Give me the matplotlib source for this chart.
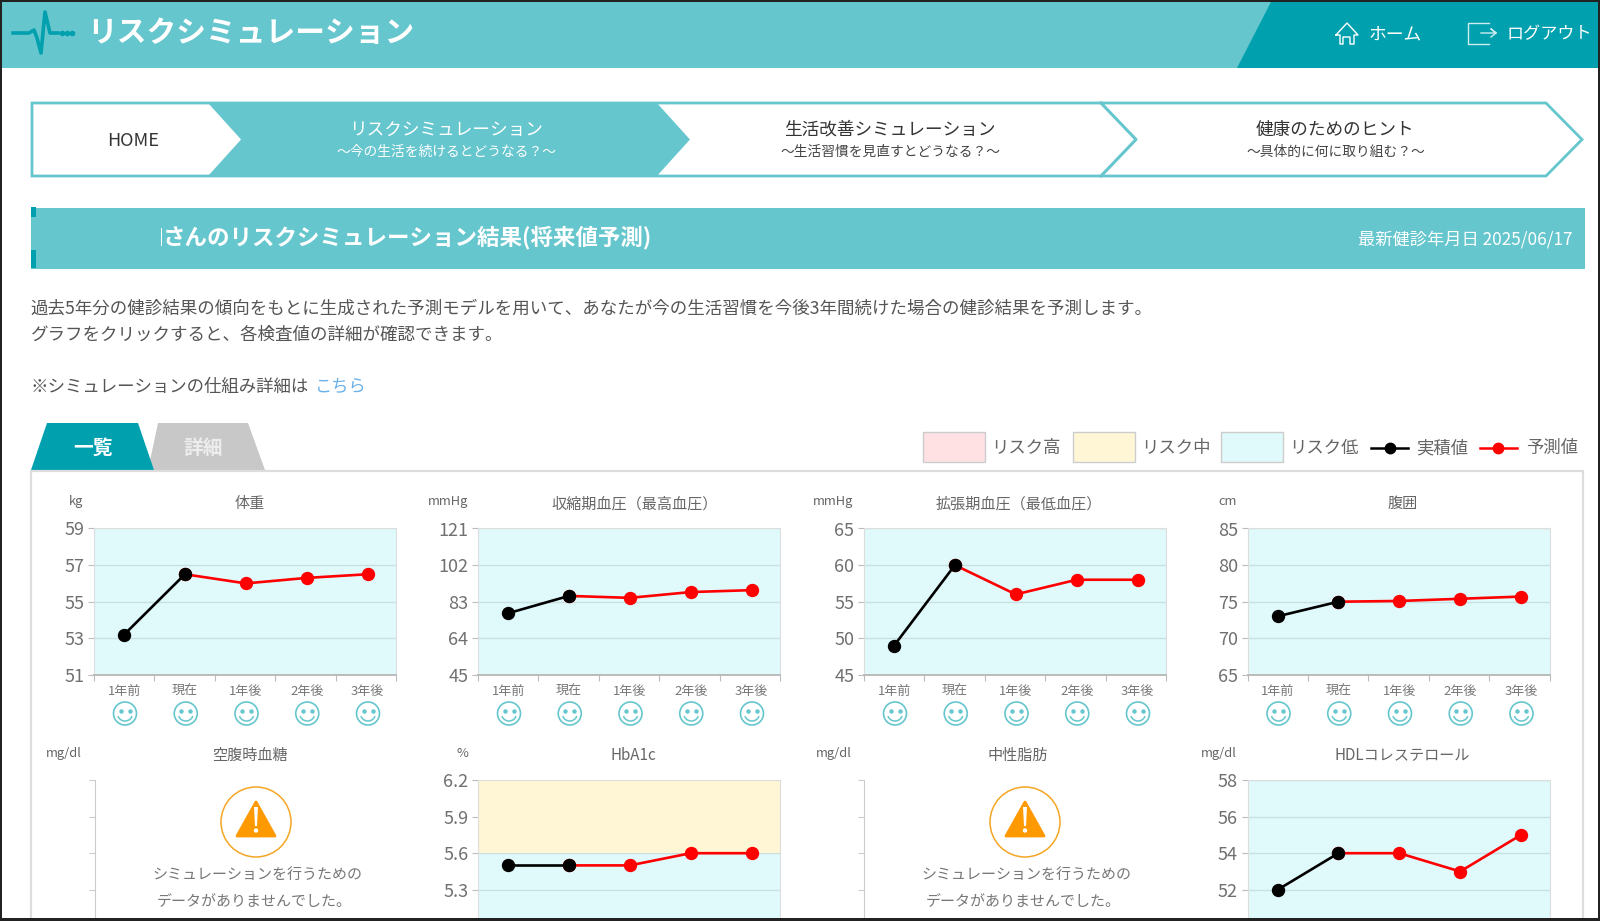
import numpy as np
import matplotlib
matplotlib.use("Agg")
import matplotlib.pyplot as plt
from matplotlib.patches import Polygon, Rectangle, Ellipse, Circle, Arc

plt.rcParams['font.family'] = ['Noto Sans CJK JP', 'DejaVu Sans']

# Chart data
x_labels = ['1年前', '現在', '1年後', '2年後', '3年後']

weight = [53.2, 56.5, 56.0, 56.3, 56.5]
weight_ticks = [51, 53, 55, 57, 59]
systolic = [77, 86, 85, 88, 89]
systolic_ticks = [45, 64, 83, 102, 121]
diastolic = [49, 60, 56, 58, 58]
diastolic_ticks = [45, 50, 55, 60, 65]
waist = [73, 75, 75.1, 75.4, 75.7]
waist_ticks = [65, 70, 75, 80, 85]
hba1c = [5.5, 5.5, 5.5, 5.6, 5.6]
hba1c_ticks = [5.0, 5.3, 5.6, 5.9, 6.2]
hba1c_mid_from = 5.6
hdl = [52, 54, 54, 53, 55]
hdl_ticks = [50, 52, 54, 56, 58]
empty_ticks = [0, 1, 2, 3, 4]

TEAL = '#66C6CE'
DARK = '#00A0AE'
LOW = '#E0FAFC'
MID = '#FFF6D6'
HIGH = '#FFE0E3'
GREY = '#666666'

W, H = 1600, 921
XMIN, XMAX = -0.494, 4.468
fig = plt.figure(figsize=(16, 9.21), dpi=100, facecolor='white')

# page axes in pixels for everything around the charts
page = fig.add_axes([0, 0, 1, 1])
page.set_xlim(0, W)
page.set_ylim(H, 0)
page.axis('off')


def label(x, y, s, size, color=GREY, ha='center', weight='normal'):
    # +2 because the CJK font sits a little high when centred
    page.text(x, y + 2, s, fontsize=size, color=color, ha=ha, va='center', fontweight=weight)


# Header
page.add_patch(Rectangle((0, 0), W, 68, fc=TEAL, ec='none'))
page.add_patch(Polygon([(1272, 0), (W, 0), (W, 68), (1237, 68)], fc=DARK, ec='none'))
page.plot([13, 29, 34, 37, 41, 45, 50, 58], [33, 33, 30, 38, 53, 12, 33, 33], color=DARK, lw=2.6)
page.plot([62, 67, 72], [33, 33, 33], ls='none', marker='o', ms=3, color=DARK)
label(87, 31, 'リスクシミュレーション', 21.4, 'white', 'left', 'bold')
page.plot([1336, 1347, 1358, 1354, 1354, 1350, 1350, 1343, 1343, 1340, 1340, 1336],
          [35, 23, 35, 35, 44, 44, 37, 37, 44, 44, 35, 35], color='white', lw=1)
label(1369, 32, 'ホーム', 12.8, 'white', 'left')
page.plot([1489, 1468, 1468, 1489], [23, 23, 44, 44], color='#CDEDF0', lw=1)
page.plot([1481, 1496, 1491, 1496, 1491], [33, 33, 29, 33, 37], color='#CDEDF0', lw=1)
label(1507, 32, 'ログアウト', 12.3, 'white', 'left')

# Breadcrumb arrows
page.add_patch(Polygon([(32, 103), (1546, 103), (1582, 139.5), (1546, 176), (32, 176)],
                       fc='white', ec=TEAL, lw=2))
page.add_patch(Polygon([(209, 103), (656, 103), (689, 139.5), (656, 176), (209, 176), (242, 139.5)],
                       fc=TEAL, ec=TEAL, lw=1))
page.plot([1101, 1136, 1101], [103, 139.5, 176], color=TEAL, lw=2.2)
label(133, 139, 'HOME', 13, '#333333')
label(446, 127.5, 'リスクシミュレーション', 12.7, 'white')
label(446, 150, '～今の生活を続けるとどうなる？～', 9.9, 'white')
label(890, 127.5, '生活改善シミュレーション', 12.7, '#333333')
label(890, 150, '～生活習慣を見直すとどうなる？～', 9.9, '#444444')
label(1335, 127.5, '健康のためのヒント', 12.7, '#333333')
label(1336, 150, '～具体的に何に取り組む？～', 9.9, '#444444')

# Result banner
page.add_patch(Rectangle((31, 208), 1554, 61, fc=TEAL, ec='none'))
page.add_patch(Rectangle((31, 207), 4.5, 10, fc=DARK, ec='none'))
page.add_patch(Rectangle((31, 250), 4.5, 18, fc=DARK, ec='none'))
page.add_patch(Rectangle((160.5, 228), 1, 18, fc='white', ec='none'))
label(163, 235.5, 'さんのリスクシミュレーション結果(将来値予測)', 16.2, 'white', 'left', 'bold')
label(1572, 237, '最新健診年月日 2025/06/17', 12.4, 'white', 'right')

# Intro text
label(30.5, 306.5, '過去5年分の健診結果の傾向をもとに生成された予測モデルを用いて、あなたが今の生活習慣を今後3年間続けた場合の健診結果を予測します。', 12.6, '#555555', 'left')
label(30.5, 332.5, 'グラフをクリックすると、各検査値の詳細が確認できます。', 12.6, '#555555', 'left')
label(30.5, 384.5, '※シミュレーションの仕組み詳細は', 12.55, '#555555', 'left')
label(314, 384.5, 'こちら', 12.4, '#6AB0E8', 'left')

# Tabs and panel
page.add_patch(Polygon([(158, 423), (248, 423), (265, 470), (148, 470)], fc='#C8C8C8', ec='none'))
page.add_patch(Polygon([(47, 423), (138, 423), (154, 470), (31, 470)], fc=DARK, ec='none'))
label(93, 446, '一覧', 14.2, 'white', weight='bold')
label(203, 446, '詳細', 14.2, '#EDEDED', weight='bold')
page.plot([31, 31, 1583, 1583], [H, 471, 471, H], color='#DDDDDD', lw=1.6)

# Legend
for x0, c, s in [(923, HIGH, 'リスク高'), (1073, MID, 'リスク中'), (1221, LOW, 'リスク低')]:
    page.add_patch(Rectangle((x0, 432), 62, 30, fc=c, ec='#CCCCCC', lw=1))
    label(x0 + 68, 446, s, 12.5, GREY, 'left')
page.plot([1371, 1408], [448, 448], color='black', lw=1.8)
page.plot([1390], [448], marker='o', ms=7.5, color='black')
label(1416, 446, '実積値', 12.5, GREY, 'left')
page.plot([1480, 1517], [448, 448], color='red', lw=1.8)
page.plot([1498], [448], marker='o', ms=7.5, color='red')
label(1526, 446, '予測値', 12.5, GREY, 'left')


def smiley(cx, cy):
    page.add_patch(Circle((cx, cy), 11.5, fc='white', ec=TEAL, lw=1.2))
    page.plot([cx - 4.5, cx + 4.5], [cy - 3, cy - 3], ls='none', marker='o', ms=2.2, color=TEAL)
    page.add_patch(Arc((cx, cy), 15, 15, theta1=20, theta2=160, ec=TEAL, lw=1.1))


def warning(cx, cy):
    page.add_patch(Ellipse((cx, cy), 70, 70, fc='white', ec='#F5A623', lw=1.1))
    page.add_patch(Polygon([(cx, cy - 20), (cx - 19, cy + 14), (cx + 19, cy + 14)], fc='#FF9900',
                           ec='#FF9900', lw=2, joinstyle='round'))
    page.add_patch(Polygon([(cx - 2, cy - 15), (cx + 2, cy - 15), (cx + 1, cy + 4), (cx - 1, cy + 4)],
                           fc='white', ec='none'))
    page.add_patch(Circle((cx, cy + 8.5), 2.2, fc='white', ec='none'))
    label(cx + 1.5, cy + 52, 'シミュレーションを行うための', 10.8, '#777777')
    label(cx - 2, cy + 77.5, 'データがありませんでした。', 10.8, '#777777')


def make_axes(left, top, width=302, height=146.4):
    ax = fig.add_axes([left / W, 1 - (top + height) / H, width / W, height / H])
    ax.set_xlim(XMIN, XMAX)
    return ax


def line_chart(left, top, values, ticks, title, title_x, unit, unit_x, mid_from=None, cut=False):
    ax = make_axes(left, top)
    ax.set_ylim(ticks[0], ticks[-1])
    ax.set_facecolor(LOW)
    if mid_from is not None:
        ax.axhspan(mid_from, ticks[-1], color=MID, lw=0)
    ax.set_yticks(ticks)
    tick_text = ['%.1f' % t if isinstance(t, float) else str(t) for t in ticks]
    if cut:
        # lowest label is below the screenshot edge
        tick_text[0] = ''
    ax.set_yticklabels(tick_text)
    ax.tick_params(axis='y', length=4, color='#BBBBBB', labelsize=13, labelcolor='#707070', pad=3)
    ax.grid(axis='y', color='#CADFE2', lw=1)
    ax.set_axisbelow(True)
    ax.set_xticks(np.linspace(XMIN, XMAX, 6))
    ax.set_xticklabels([])
    ax.set_xticks(range(5), [''] * 5 if cut else x_labels, minor=True)
    ax.tick_params(axis='x', which='major', length=4, color='#BBBBBB')
    ax.tick_params(axis='x', which='minor', length=0, labelsize=9.4, labelcolor='#777777', pad=7)
    for side in ['top', 'left', 'right']:
        ax.spines[side].set_color('#DDDDDD')
    ax.spines['bottom'].set_color('#BBBBBB')
    ax.spines['bottom'].set_linewidth(1.4)
    ax.plot(range(1, 5), values[1:], color='red', lw=1.9, marker='o', ms=8.6, zorder=3)
    ax.plot(range(2), values[:2], color='black', lw=1.9, marker='o', ms=8.6, zorder=4)
    label(title_x, top - 27, title, 10.9, GREY)
    label(unit_x, top - 29, unit, 9.3, GREY)
    if not cut:
        for i in range(5):
            smiley(left + 31 + i * 60.75, top + 185)
    return ax


def empty_chart(left, top, title, title_x, unit_x):
    ax = make_axes(left, top)
    ax.patch.set_alpha(0)
    ax.set_ylim(empty_ticks[0], empty_ticks[-1])
    ax.set_yticks(empty_ticks)
    ax.set_yticklabels([])
    ax.set_xticks([])
    ax.tick_params(axis='y', length=4, color='#CCCCCC')
    for side in ['top', 'bottom', 'right']:
        ax.spines[side].set_visible(False)
    ax.spines['left'].set_color('#CCCCCC')
    label(title_x, top - 27, title, 10.9, GREY)
    label(unit_x, top - 29, 'mg/dl', 9.3, GREY)
    warning(left + 161, top + 42)


# Top row
line_chart(94, 528.5, weight, weight_ticks, '体重', 249.5, 'kg', 76)
line_chart(478, 528.5, systolic, systolic_ticks, '収縮期血圧（最高血圧）', 634.5, 'mmHg', 448)
line_chart(864, 528.5, diastolic, diastolic_ticks, '拡張期血圧（最低血圧）', 1019, 'mmHg', 833)
line_chart(1247.5, 528.5, waist, waist_ticks, '腹囲', 1403, 'cm', 1228)

# Bottom row runs off the screenshot
empty_chart(95, 780, '空腹時血糖', 250, 64)
line_chart(478, 780, hba1c, hba1c_ticks, 'HbA1c', 633, '%', 462, mid_from=hba1c_mid_from, cut=True)
empty_chart(864, 780, '中性脂肪', 1018, 834)
line_chart(1247.5, 780, hdl, hdl_ticks, 'HDLコレステロール', 1402, 'mg/dl', 1219, cut=True)

# Dark screenshot border on top of everything
border = fig.add_axes([0, 0, 1, 1], zorder=10)
border.set_xlim(0, W)
border.set_ylim(H, 0)
border.axis('off')
border.add_patch(Rectangle((0, 0), W, 2, fc='#222222', ec='none'))
border.add_patch(Rectangle((0, 0), 2, H, fc='#222222', ec='none'))
border.add_patch(Rectangle((1598, 0), 2, H, fc='#222222', ec='none'))
border.add_patch(Rectangle((0, 918), W, 3, fc='#222222', ec='none'))

fig.savefig('out.png', dpi=100)
